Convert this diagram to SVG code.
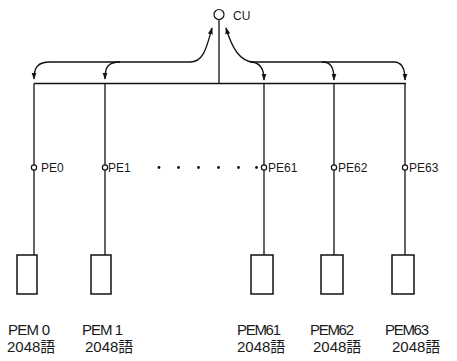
<svg xmlns="http://www.w3.org/2000/svg" width="457" height="361" viewBox="0 0 457 361">
<style>
.ln{stroke:#111;stroke-width:1.3;fill:none}
.bx{stroke:#111;stroke-width:1.5;fill:#fff}
.pe{stroke:#111;stroke-width:1.2;fill:#fff}
.t{font-family:"Liberation Sans","Noto Sans CJK JP",sans-serif;fill:#1a1a1a}
.s{font-size:12px}
.m{font-size:15px}
.dot{fill:#111}
</style>
<defs>
<marker id="ah" viewBox="0 0 10 10" refX="9" refY="5" markerWidth="7" markerHeight="7" markerUnits="userSpaceOnUse" orient="auto-start-reverse">
<path d="M0 1.5 L10 5 L0 8.5 Z" fill="#111"/>
</marker>
</defs>
<rect width="457" height="361" fill="#fff"/>
<g id="connectors">
<line class="ln" x1="219" y1="19.5" x2="219" y2="83.5"/>
<line class="ln" x1="34" y1="83.5" x2="406" y2="83.5"/>
<path class="ln" d="M34 79 C34 67 38 62 50 62 L190 62 C204 62 207 46 212 28" marker-start="url(#ah)" marker-end="url(#ah)"/>
<path class="ln" d="M105 79 C105 67 108 62 120 62" marker-start="url(#ah)"/>
<path class="ln" d="M226 28 C232 48 240 62 254 62 L394 62 C402 62 405 68 405 80" marker-start="url(#ah)" marker-end="url(#ah)"/>
<path class="ln" d="M250 62 C258 62 264 66 264 80" marker-end="url(#ah)"/>
<path class="ln" d="M322 62 C330 62 334 66 334 80" marker-end="url(#ah)"/>
<line class="ln" x1="34" y1="83.5" x2="34" y2="255"/>
<line class="ln" x1="105" y1="83.5" x2="105" y2="255"/>
<line class="ln" x1="264" y1="83.5" x2="264" y2="255"/>
<line class="ln" x1="334" y1="83.5" x2="334" y2="255"/>
<line class="ln" x1="405" y1="83.5" x2="405" y2="255"/>
</g>
<g id="cu">
<circle class="pe" cx="219" cy="14.5" r="5"/>
<text class="t s" x="233" y="20" fill="#444">CU</text>
</g>
<g id="pe-dots">
<circle class="dot" cx="159" cy="167.5" r="1.4"/>
<circle class="dot" cx="178.5" cy="167.5" r="1.4"/>
<circle class="dot" cx="198.5" cy="167.5" r="1.4"/>
<circle class="dot" cx="218.5" cy="167.5" r="1.4"/>
<circle class="dot" cx="238.5" cy="167.5" r="1.4"/>
<circle class="dot" cx="256.5" cy="167.5" r="1.4"/>
</g>
<g id="pe0"><circle class="pe" cx="34" cy="167.5" r="2.6"/><text class="t s" x="41" y="172">PE0</text></g>
<g id="pe1"><circle class="pe" cx="105" cy="167.5" r="2.6"/><text class="t s" x="108" y="172">PE1</text></g>
<g id="pe61"><circle class="pe" cx="264" cy="167.5" r="2.6"/><text class="t s" x="268" y="172">PE61</text></g>
<g id="pe62"><circle class="pe" cx="334" cy="167.5" r="2.6"/><text class="t s" x="338" y="172">PE62</text></g>
<g id="pe63"><circle class="pe" cx="405" cy="167.5" r="2.6"/><text class="t s" x="409" y="172" fill="#444">PE63</text></g>
<g id="pem0"><rect class="bx" x="17" y="255" width="20" height="39"/><text class="t m" x="8" y="335" textLength="42">PEM 0</text><text class="t m" x="7" y="352">2048語</text></g>
<g id="pem1"><rect class="bx" x="91" y="255" width="20" height="39"/><text class="t m" x="82" y="335" textLength="41">PEM 1</text><text class="t m" x="85" y="352">2048語</text></g>
<g id="pem61"><rect class="bx" x="251" y="255" width="22" height="39"/><text class="t m" x="237" y="335" textLength="44">PEM61</text><text class="t m" x="237" y="352">2048語</text></g>
<g id="pem62"><rect class="bx" x="321" y="255" width="22" height="39"/><text class="t m" x="310" y="335" textLength="44">PEM62</text><text class="t m" x="313" y="352">2048語</text></g>
<g id="pem63"><rect class="bx" x="392" y="255" width="22" height="39"/><text class="t m" x="385" y="335" textLength="44">PEM63</text><text class="t m" x="392" y="352">2048語</text></g>
</svg>
